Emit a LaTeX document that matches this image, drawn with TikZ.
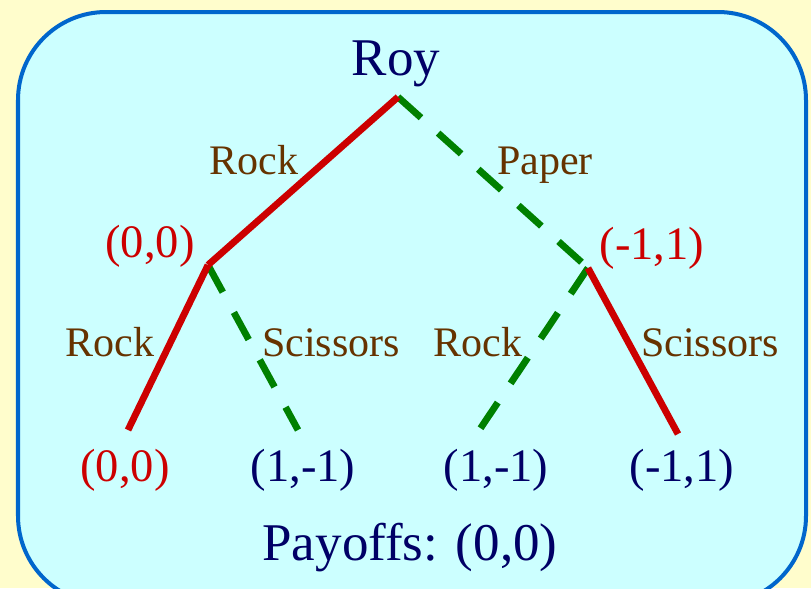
\documentclass[tikz,border=0pt]{standalone}
\usepackage{fontspec}
\setmainfont{Liberation Serif}
\usetikzlibrary{positioning}
\definecolor{paper}{HTML}{FFFDCC}
\definecolor{panel}{HTML}{CCFFFF}
\definecolor{panelrule}{HTML}{0066CC}
\definecolor{navy}{HTML}{000066}
\definecolor{brownlbl}{HTML}{663300}
\definecolor{redmove}{HTML}{CC0000}
\definecolor{greenmove}{HTML}{008000}
\tikzset{
  player/.style   ={text=navy, anchor=base, inner sep=0pt,
                    font=\fontsize{37.7}{42}\selectfont},
  move/.style     ={text=brownlbl, anchor=base, inner sep=0pt,
                    font=\fontsize{29.9}{34}\selectfont},
  payoff/.style   ={text=navy, anchor=base, inner sep=0pt,
                    font=\fontsize{33.1}{37}\selectfont},
  payoff-eq/.style={payoff, text=redmove},
  eqpath/.style   ={-, redmove, line width=0.17cm},
  offpath/.style  ={-, greenmove, line width=0.17cm,
                    dash pattern=on 22pt off 16.4pt},
}

\begin{document}
\begin{tikzpicture}[x=0.025cm, y=-0.025cm]

% Page and panel
\useasboundingbox (0,0) rectangle (811,588);
\fill[paper] (0,0) rectangle (811,588);
\begin{scope}
  \clip (0,0) rectangle (811,588);
  \draw[panelrule, fill=panel, line width=0.1cm, rounded corners=2.2cm]
    (18,12) rectangle (806,604);
\end{scope}

% Tree vertices
\coordinate (R)  at (398,97);
\coordinate (A)  at (208,265);
\coordinate (B)  at (588,268);
\coordinate (A1) at (128,430);
\coordinate (A2) at (298,430);
\coordinate (B1) at (478,432);
\coordinate (B2) at (678,434);

% Branches: dashed ones first, equilibrium path on top
\draw[offpath] (R) -- (B);
\draw[offpath] (A) -- (A2);
\draw[offpath] (B) -- (B1);
\draw[eqpath]  (R) -- (A);
\draw[eqpath]  (A) -- (A1);
\draw[eqpath]  (B) -- (B2);

% Labels
\node[player] (roy) at (396,75) {Roy};
\node[move] (mRock)  at (254,174) {Rock};
\node[move] (mPaper) at (545,174) {Paper};
\node[payoff-eq] (vA) at (150,257) {(0,0)};
\node[payoff-eq] (vB) at (652,259) {(-1,1)};

\node[move] (mA1) at (110,356) {Rock};
\node[move] (mA2) at (331,356) {Scissors};
\node[move] (mB1) at (478,356) {Rock};
\node[move] (mB2) at (710,356) {Scissors};

\node[payoff-eq] (vA1) at (125,481) {(0,0)};
\node[payoff]    (vA2) at (303,481) {(1,-1)};
\node[payoff]    (vB1) at (496,481) {(1,-1)};
\node[payoff]    (vB2) at (682,481) {(-1,1)};

\node[player] (total) at (410,560) {Payoffs: (0,0)};

\end{tikzpicture}
\end{document}
